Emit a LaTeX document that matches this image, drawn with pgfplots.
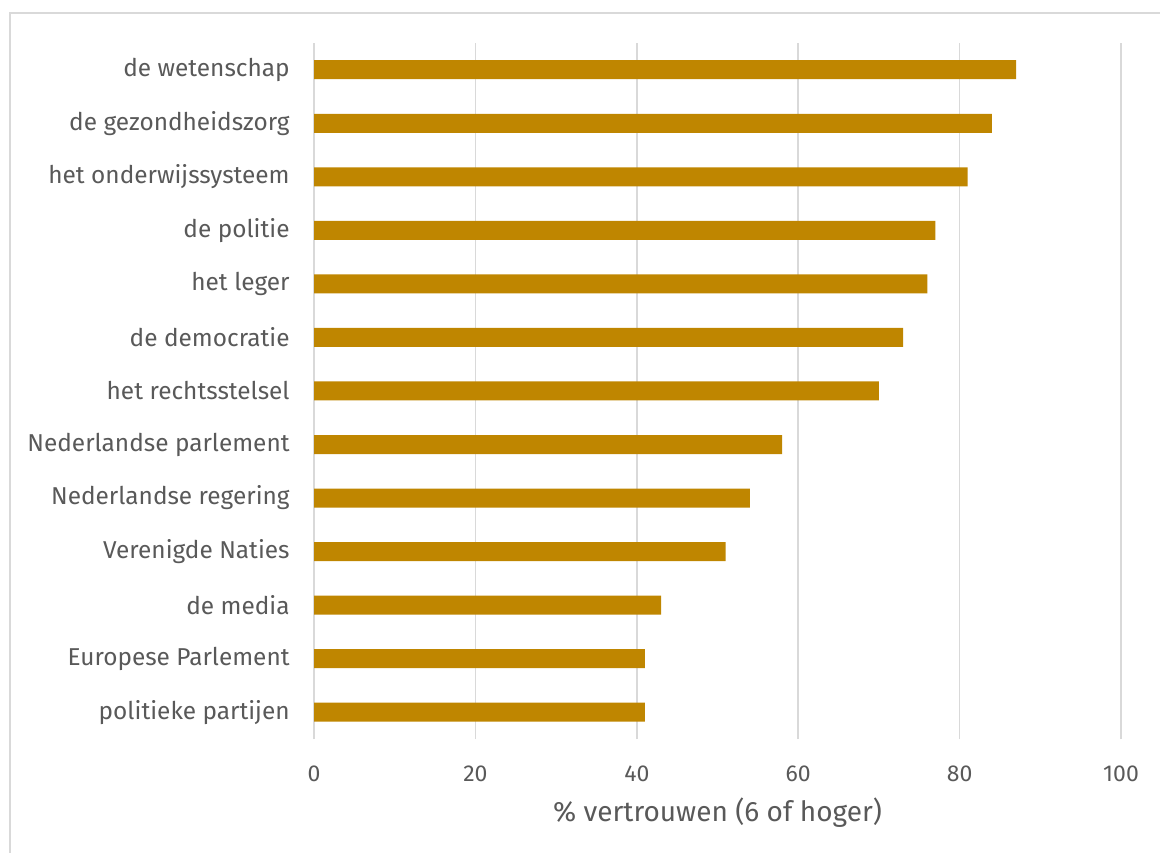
\documentclass[border=0pt]{standalone}
\usepackage{pgfplots}
\pgfplotsset{compat=1.18}
\usepackage{fontspec}
\setmainfont{Fira Sans}
\definecolor{barc}{HTML}{BF8600}
\definecolor{txt}{HTML}{595959}
\definecolor{gridc}{HTML}{D9D9D9}
\begin{document}
\begin{tikzpicture}[x=0.5bp,y=0.5bp]
\path[use as bounding box] (0,0) rectangle (1160,852);
\begin{scope}
\clip (0,0) rectangle (1160,852);
\draw[gridc, line width=1bp] (10,-20) rectangle (1180,839);
\end{scope}
\begin{axis}[
  at={(157bp,56.5bp)}, anchor=south west,
  scale only axis, width=403.5bp, height=348bp,
  xmin=0, xmax=100, ymin=-0.5, ymax=12.5,
  xtick={0,20,40,60,80,100},
  ytick={0,...,12},
  yticklabels={politieke partijen,Europese Parlement,de media,Verenigde Naties,Nederlandse regering,Nederlandse parlement,het rechtsstelsel,de democratie,het leger,de politie,het onderwijssysteem,de gezondheidszorg,de wetenschap},
  xmajorgrids, major grid style={gridc, line width=0.75bp},
  axis line style={draw=none}, tick style={draw=none},
  /pgf/number format/assume math mode=true,
  tick label style={font=\fontsize{11.5bp}{13bp}\selectfont, text=txt},
  yticklabel style={font=\fontsize{12.2bp}{14bp}\selectfont, anchor=east, inner sep=0pt, xshift=-12bp},
  xticklabel style={anchor=north, inner sep=0pt, yshift=-13bp},
  xlabel={\% vertrouwen (6 of hoger)},
  xlabel style={font=\fontsize{14bp}{16bp}\selectfont, text=txt, anchor=north, inner sep=0pt, yshift=-8bp},
  clip=false,
]
\addplot[xbar, bar width=9.5bp, fill=barc, draw=none] coordinates {
(41,0) (41,1) (43,2) (51,3) (54,4) (58,5) (70,6) (73,7) (76,8) (77,9) (81,10) (84,11) (87,12)};
\end{axis}
\end{tikzpicture}
\end{document}
